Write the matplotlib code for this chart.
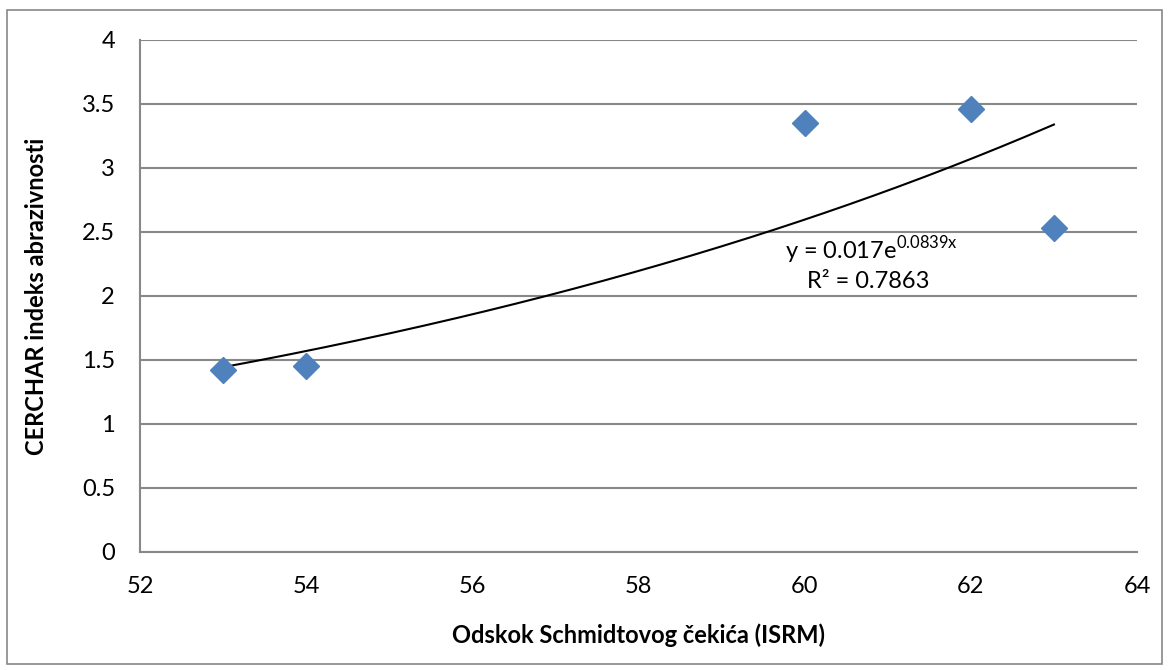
import numpy as np
import matplotlib
matplotlib.use("Agg")
import matplotlib.pyplot as plt
from matplotlib.patches import Rectangle

plt.rcParams['font.family'] = ['Lato', 'DejaVu Sans']

# Data
rebound = [53, 54, 60, 62, 63]
cai = [1.42, 1.45, 3.35, 3.46, 2.53]
x_ticks = [52, 54, 56, 58, 60, 62, 64]
y_ticks = [0, 0.5, 1, 1.5, 2, 2.5, 3, 3.5, 4]

# Exponential trendline (Excel style: fit on log y)
b, ln_a = np.polyfit(rebound, np.log(cai), 1)
xs = np.linspace(min(rebound), max(rebound), 200)
ys = np.exp(ln_a) * np.exp(b * xs)

fig = plt.figure(figsize=(11.69, 6.70), dpi=100)
ax = fig.add_axes([140 / 1169, 1 - 552 / 670, (1137 - 140) / 1169, (552 - 40) / 670])

# outer chart border
fig.patches.append(Rectangle((7 / 1169, 1 - 664 / 670), (1162 - 7) / 1169, (664 - 10) / 670,
                             transform=fig.transFigure, fill=False, edgecolor='#888888', lw=1.2))

ax.set_xlim(52, 64)
ax.set_ylim(0, 4)
ax.set_xticks(x_ticks)
ax.set_yticks(y_ticks)
ax.set_yticklabels(['0', '0.5', '1', '1.5', '2', '2.5', '3', '3.5', '4'])
ax.grid(axis='y', color='#888888', lw=1.5)
ax.set_axisbelow(True)
for side in ['top', 'right']:
    ax.spines[side].set_visible(False)
for side in ['left', 'bottom']:
    ax.spines[side].set_color('#888888')
    ax.spines[side].set_linewidth(1.5)
ax.tick_params(length=0, labelsize=17, colors='black')
ax.tick_params(axis='x', pad=17)
ax.tick_params(axis='y', pad=18)

ax.plot(xs, ys, color='black', lw=1.5, zorder=2)
ax.plot(rebound, cai, 'D', color='#4F81BD', ms=13, mec='#4F81BD', zorder=3)

ax.text(59.76, 2.36, r'y = 0.017e$^{\mathregular{0.0839x}}$', fontsize=17, va='center', ha='left')
ax.text(60.76, 2.11, 'R² = 0.7863', fontsize=17, va='center', ha='center')

ax.set_xlabel('Odskok Schmidtovog čekića (ISRM)', fontsize=17, fontweight='bold', labelpad=19)
ax.set_ylabel('CERCHAR indeks abrazivnosti', fontsize=17, fontweight='bold', labelpad=24)

fig.savefig('out.png', dpi=100)
